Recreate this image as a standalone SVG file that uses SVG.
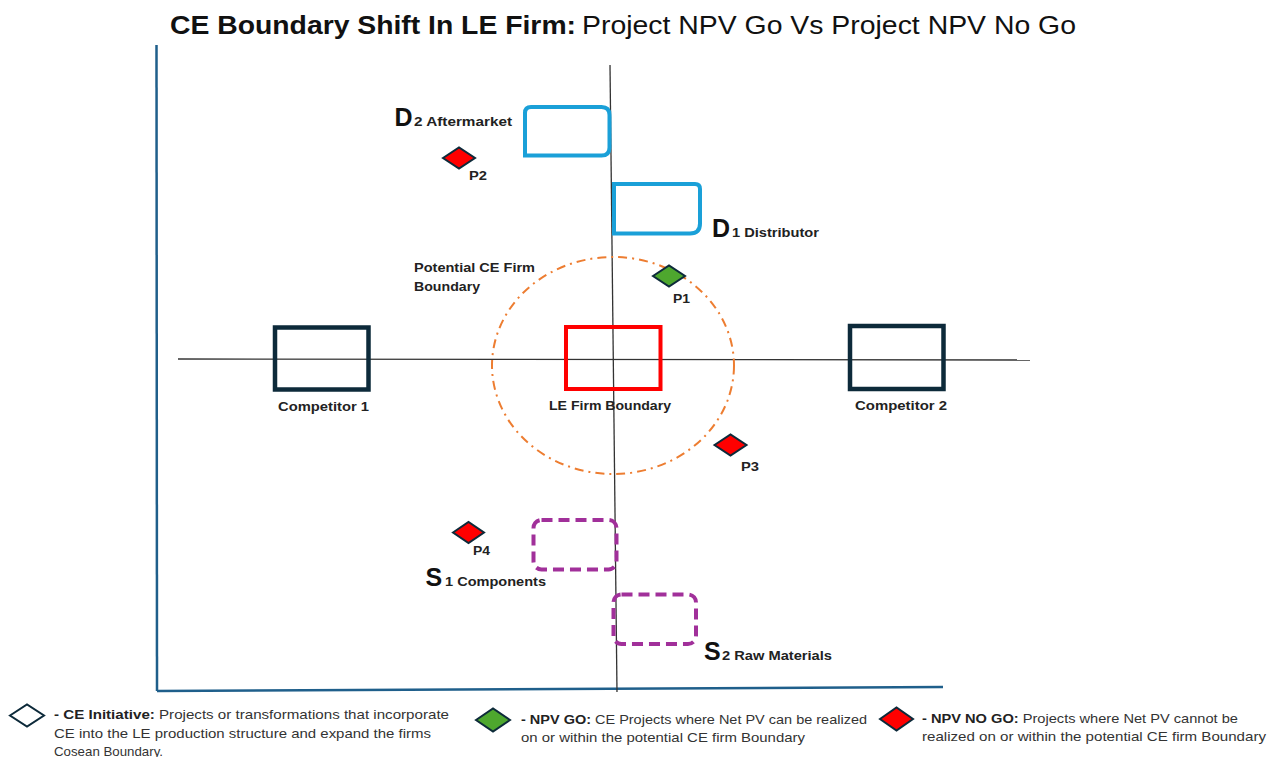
<svg xmlns="http://www.w3.org/2000/svg" width="1273" height="757" viewBox="0 0 1273 757">
  <style>
    .title { font-family: "Liberation Sans", Arial, sans-serif; font-size: 26px; fill: #111; }
    .lbl { font-family: "Liberation Sans", Arial, sans-serif; font-size: 13px; font-weight: bold; fill: #222; }
    .big { font-family: "Liberation Sans", Arial, sans-serif; font-size: 25px; font-weight: bold; fill: #111; }
    .sub { font-family: "Liberation Sans", Arial, sans-serif; font-size: 12.5px; font-weight: bold; fill: #222; }
    .leg { font-family: "Liberation Sans", Arial, sans-serif; font-size: 13.5px; fill: #333; }
    .leg tspan.b { font-weight: bold; fill: #222; }
    .comp { fill: none; stroke: #0d2a3a; stroke-width: 4.5; }
    .dist { fill: none; stroke: #1aa0d8; stroke-width: 4; }
    .supp { fill: none; stroke: #a1309a; stroke-width: 4; stroke-dasharray: 11 6; }
    .dia { stroke: #0d2a3a; stroke-width: 2; stroke-linejoin: miter; }
    .go { fill: #4ea72e; }
    .nogo { fill: #ff0000; }
    .init { fill: #fff; }
  </style>

  <rect width="1273" height="757" fill="#fff"/>

  <!-- title -->
  <text class="title" x="170" y="34" font-weight="bold" textLength="406" lengthAdjust="spacingAndGlyphs">CE Boundary Shift In LE Firm:</text>
  <text class="title" x="582" y="34" textLength="494" lengthAdjust="spacingAndGlyphs">Project NPV Go Vs Project NPV No Go</text>

  <!-- axes and cross lines -->
  <g id="connectors" fill="none">
    <line x1="156.5" y1="45" x2="157" y2="691" stroke="#1f5f8b" stroke-width="2.5"/>
    <line x1="157" y1="691" x2="943" y2="687" stroke="#1f5f8b" stroke-width="2.5"/>
    <line x1="610" y1="65" x2="617" y2="692" stroke="#333" stroke-width="1.3"/>
    <line x1="178" y1="359" x2="1030" y2="360" stroke="#333" stroke-width="1.3"/>
  </g>

  <!-- potential CE firm boundary -->
  <g id="ce-boundary">
    <ellipse cx="613" cy="365.5" rx="121" ry="108.5" fill="none" stroke="#ed7d31" stroke-width="2" stroke-dasharray="9 5 2 5"/>
    <text class="lbl" x="414" y="272" textLength="121" lengthAdjust="spacingAndGlyphs">Potential CE Firm</text>
    <text class="lbl" x="414" y="291" textLength="66" lengthAdjust="spacingAndGlyphs">Boundary</text>
  </g>

  <!-- LE firm -->
  <g id="le-firm">
    <rect x="566" y="327" width="94.5" height="62" fill="none" stroke="#ff0000" stroke-width="4"/>
    <text class="lbl" x="549" y="410" textLength="122" lengthAdjust="spacingAndGlyphs">LE Firm Boundary</text>
  </g>

  <!-- competitors -->
  <g id="competitor-1">
    <rect class="comp" x="275" y="327.5" width="93.5" height="62"/>
    <text class="lbl" x="278" y="411" textLength="91" lengthAdjust="spacingAndGlyphs">Competitor 1</text>
  </g>
  <g id="competitor-2">
    <rect class="comp" x="850" y="326" width="93.5" height="63"/>
    <text class="lbl" x="855" y="410" textLength="92" lengthAdjust="spacingAndGlyphs">Competitor 2</text>
  </g>

  <!-- downstream: distributors -->
  <g id="d2-aftermarket">
    <path class="dist" d="M525 155.5 V113 Q525 107 531 107 H601.5 Q609.5 107 609.5 115 V147.5 Q609.5 155.5 601.5 155.5 Z"/>
    <text class="big" x="394.5" y="125.5">D</text>
    <text class="sub" x="414" y="125.5" textLength="98" lengthAdjust="spacingAndGlyphs">2 Aftermarket</text>
  </g>
  <g id="d1-distributor">
    <path class="dist" d="M614 184 H695 Q700 184 700 189 V223.5 Q700 233.5 690 233.5 H614 Z"/>
    <text class="big" x="712" y="236.5">D</text>
    <text class="sub" x="732" y="236.5" textLength="87" lengthAdjust="spacingAndGlyphs">1 Distributor</text>
  </g>

  <!-- upstream: suppliers -->
  <g id="s1-components">
    <rect class="supp" x="533.5" y="520" width="83" height="49.5" rx="8"/>
    <text class="big" x="425.5" y="586">S</text>
    <text class="sub" x="445" y="586" textLength="101" lengthAdjust="spacingAndGlyphs">1 Components</text>
  </g>
  <g id="s2-raw-materials">
    <rect class="supp" x="613.5" y="594.5" width="82.5" height="49.5" rx="8"/>
    <text class="big" x="704" y="659.5">S</text>
    <text class="sub" x="722" y="659.5" textLength="110" lengthAdjust="spacingAndGlyphs">2 Raw Materials</text>
  </g>

  <!-- projects -->
  <g id="p1">
    <polygon class="dia go" points="653,276 669,265.5 685,276 669,286.5"/>
    <text class="lbl" x="673" y="303" textLength="17" lengthAdjust="spacingAndGlyphs">P1</text>
  </g>
  <g id="p2">
    <polygon class="dia nogo" points="443,158 459,147.5 475,158 459,168.5"/>
    <text class="lbl" x="469" y="180" textLength="18" lengthAdjust="spacingAndGlyphs">P2</text>
  </g>
  <g id="p3">
    <polygon class="dia nogo" points="714.5,445 730.5,434.5 746.5,445 730.5,455.5"/>
    <text class="lbl" x="741" y="471" textLength="18" lengthAdjust="spacingAndGlyphs">P3</text>
  </g>
  <g id="p4">
    <polygon class="dia nogo" points="453,532.5 468.5,522 484,532.5 468.5,543"/>
    <text class="lbl" x="473" y="555" textLength="17" lengthAdjust="spacingAndGlyphs">P4</text>
  </g>

  <!-- legend -->
  <g id="legend-initiative">
    <polygon class="dia init" points="10,715.5 27,704.5 44,715.5 27,726.5"/>
    <text class="leg" x="54" y="719" textLength="395" lengthAdjust="spacingAndGlyphs"><tspan class="b">- CE Initiative:</tspan> Projects or transformations that incorporate</text>
    <text class="leg" x="54" y="737.5" textLength="377" lengthAdjust="spacingAndGlyphs">CE into the LE production structure and expand the firms</text>
    <text class="leg" x="54" y="756" textLength="109" lengthAdjust="spacingAndGlyphs">Cosean Boundary.</text>
  </g>
  <g id="legend-go">
    <polygon class="dia go" points="476,720 493,708.5 510,720 493,731.5"/>
    <text class="leg" x="521" y="723.5" textLength="346" lengthAdjust="spacingAndGlyphs"><tspan class="b">- NPV GO:</tspan> CE Projects where Net PV can be realized</text>
    <text class="leg" x="521" y="741.5" textLength="284" lengthAdjust="spacingAndGlyphs">on or within the potential CE firm Boundary</text>
  </g>
  <g id="legend-nogo">
    <polygon class="dia nogo" points="880,719 896.5,707.5 913,719 896.5,730.5"/>
    <text class="leg" x="922" y="722.5" textLength="316" lengthAdjust="spacingAndGlyphs"><tspan class="b">- NPV NO GO:</tspan> Projects where Net PV cannot be</text>
    <text class="leg" x="922" y="740.5" textLength="344" lengthAdjust="spacingAndGlyphs">realized on or within the potential CE firm Boundary</text>
  </g>
</svg>
